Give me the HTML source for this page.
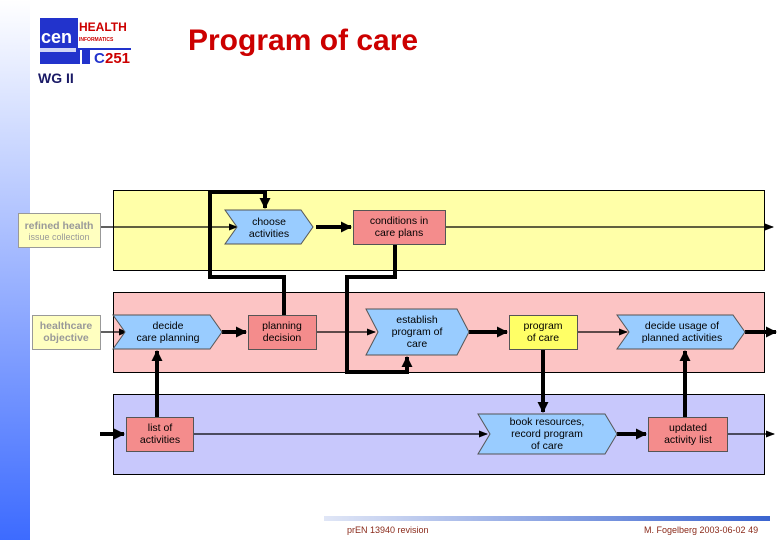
<!DOCTYPE html>
<html><head><style>
body{margin:0;width:780px;height:540px;overflow:hidden;background:#fff;font-family:"Liberation Sans",sans-serif;position:relative}
</style></head><body>
<div style="position:absolute;left:0;top:0;width:30px;height:540px;background:linear-gradient(#fff,#3d6bff)"></div>
<svg width="780" height="540" style="position:absolute;left:0;top:0" font-family="Liberation Sans, sans-serif">
<defs>
<marker id="b" markerWidth="9" markerHeight="9" refX="8" refY="4.5" orient="auto" markerUnits="userSpaceOnUse"><path d="M0,1 L9,4.5 L0,8 z" fill="#000"/></marker>
<marker id="c" markerWidth="12" markerHeight="12" refX="10" refY="6" orient="auto" markerUnits="userSpaceOnUse"><path d="M0,0.5 L11,6 L0,11.5 z" fill="#000"/></marker>
<linearGradient id="fg" x1="0" x2="1"><stop offset="0" stop-color="#e0e6f6"/><stop offset="1" stop-color="#3a64d0"/></linearGradient>
</defs>
<!-- logo -->
<rect x="40" y="18" width="91" height="46" fill="#2233cc"/>
<rect x="78" y="18" width="53" height="30" fill="#fff"/>
<rect x="80" y="50" width="51" height="14" fill="#fff"/>
<rect x="40" y="48" width="36" height="4" fill="#fff" opacity="0.8"/>
<text x="79" y="31" font-size="12" font-weight="bold" fill="#c00">HEALTH</text>
<text x="79" y="41" font-size="5" font-weight="bold" fill="#c00">INFORMATICS</text>
<text x="41" y="43" font-size="18" font-weight="bold" fill="#fff">cen</text>
<rect x="82" y="50" width="8" height="14" fill="#2233cc"/>
<text x="94" y="63" font-size="15" font-weight="bold" fill="#23c">C</text><text x="105" y="63" font-size="15" font-weight="bold" fill="#c00">251</text>
<text x="188" y="50" font-size="30" font-weight="bold" fill="#cc0000">Program of care</text>
<text x="38" y="83" font-size="14" font-weight="bold" fill="#1a1a66">WG II</text>
<!-- lanes -->
<rect x="113.5" y="190.5" width="651" height="80" fill="#ffffa8" stroke="#000"/>
<rect x="113.5" y="292.5" width="651" height="80" fill="#fcc4c4" stroke="#000"/>
<rect x="113.5" y="394.5" width="651" height="80" fill="#c8c8fc" stroke="#000"/>
<!-- thin connectors -->
<g stroke="#000" stroke-width="1.2" fill="none" marker-end="url(#b)">
<line x1="100" y1="227" x2="237" y2="227"/>
<line x1="445" y1="227" x2="773" y2="227"/>
<line x1="100" y1="332" x2="127" y2="332"/>
<line x1="316" y1="332" x2="375" y2="332"/>
<line x1="577" y1="332" x2="627" y2="332"/>
<line x1="193" y1="434" x2="487" y2="434"/>
<line x1="727" y1="434" x2="774" y2="434"/>
</g>
<g stroke="#000" stroke-width="4" fill="none" marker-end="url(#c)">
<polyline points="284,315 284,277 210,277 210,192 265,192 265,208"/>
<polyline points="395,244 395,277 347,277 347,372 407,372 407,357"/>
<line x1="316" y1="227" x2="351" y2="227"/>
<line x1="222" y1="332" x2="246" y2="332"/>
<line x1="469" y1="332" x2="507" y2="332"/>
<line x1="745" y1="332" x2="776" y2="332"/>
<line x1="157" y1="417" x2="157" y2="351"/>
<line x1="100" y1="434" x2="124" y2="434"/>
<line x1="543" y1="349" x2="543" y2="412"/>
<line x1="617" y1="434" x2="646" y2="434"/>
<line x1="685" y1="417" x2="685" y2="351"/>
</g>
<!-- nodes -->
<g stroke="#555" stroke-width="1">
<rect x="18.5" y="213.5" width="82" height="34" fill="#ffffc0" stroke="#999"/>
<rect x="32.5" y="315.5" width="68" height="34" fill="#ffffc0" stroke="#999"/>
<path d="M225,210 H301 L313,227 L301,244 H225 L237,227 Z" fill="#99ccff"/>
<rect x="353.5" y="210.5" width="92" height="34" fill="#f48c8c"/>
<path d="M113,315 H210 L222,332 L210,349 H113 L125,332 Z" fill="#99ccff"/>
<rect x="248.5" y="315.5" width="68" height="34" fill="#f48c8c"/>
<path d="M366,309 H457 L469,332 L457,355 H366 L378,332 Z" fill="#99ccff"/>
<rect x="509.5" y="315.5" width="68" height="34" fill="#ffff66"/>
<path d="M617,315 H733 L745,332 L733,349 H617 L629,332 Z" fill="#99ccff"/>
<rect x="126.5" y="417.5" width="67" height="34" fill="#f48c8c"/>
<path d="M478,414 H605 L617,434 L605,454 H478 L490,434 Z" fill="#99ccff"/>
<rect x="648.5" y="417.5" width="79" height="34" fill="#f48c8c"/>
</g>
<g font-size="10.5" text-anchor="middle" fill="#000">
<text x="59" y="229" fill="#999" font-weight="bold">refined health</text>
<text x="59" y="240" fill="#999" font-size="9">issue collection</text>
<text x="66" y="329" fill="#999" font-weight="bold">healthcare</text>
<text x="66" y="341" fill="#999" font-weight="bold">objective</text>
<text x="269" y="225">choose</text><text x="269" y="237">activities</text>
<text x="399" y="224">conditions in</text><text x="399" y="236">care plans</text>
<text x="168" y="329">decide</text><text x="168" y="341">care planning</text>
<text x="282" y="329">planning</text><text x="282" y="341">decision</text>
<text x="417" y="323">establish</text><text x="417" y="335">program of</text><text x="417" y="347">care</text>
<text x="543" y="329">program</text><text x="543" y="341">of care</text>
<text x="682" y="329">decide usage of</text><text x="682" y="341">planned activities</text>
<text x="160" y="431">list of</text><text x="160" y="443">activities</text>
<text x="547" y="425">book resources,</text><text x="547" y="437">record program</text><text x="547" y="449">of care</text>
<text x="688" y="431">updated</text><text x="688" y="443">activity list</text>
</g>
<rect x="324" y="516" width="446" height="5" fill="url(#fg)"/>
<text x="347" y="533" font-size="9" fill="#8a2a1a">prEN 13940 revision</text>
<text x="644" y="533" font-size="9" fill="#8a2a1a">M. Fogelberg 2003-06-02   49</text>
</svg>
</body></html>
